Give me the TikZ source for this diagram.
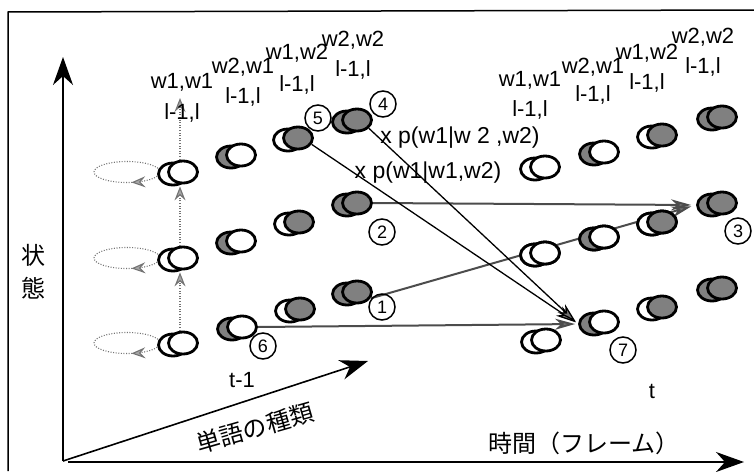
\documentclass[tikz,border=0pt]{standalone}
\usepackage{fontspec}
\setmainfont{Liberation Sans}
\newfontfamily\jp{Noto Sans CJK JP}
\usetikzlibrary{arrows.meta,decorations.markings,shapes.geometric}
\newcommand\statepair[5]{%
  \node[#4] (#1b) at (#2-10,#3+2) {};
  \node[#5] (#1) at (#2,#3) {};}
\begin{document}
\begin{tikzpicture}[x=1pt,y=-1pt,
  ell/.style={ellipse,draw,line width=2.8pt,minimum width=29pt,minimum height=22pt,inner sep=0pt},
  wf/.style={ell,fill=white},
  gf/.style={ell,fill=black!50},
  lbl/.style={font=\fontsize{22}{22}\selectfont,inner sep=0pt},
  plbl/.style={font=\fontsize{23}{23}\selectfont,inner sep=0pt},
  num/.style={circle,draw,line width=1.5pt,minimum size=26pt,inner sep=0pt,font=\fontsize{18}{18}\selectfont},
  jtxt/.style={font=\jp\fontsize{24}{33}\selectfont,inner sep=0pt},
  axis/.style={line width=1.6pt,-{Stealth[length=28pt,width=20pt,inset=9pt]}},
  gtip/.style={-{Stealth[length=14pt,width=11pt,inset=5pt,fill=black!35,color=black!55]}},
  dotline/.style={draw=black!55,line width=1.1pt,dash pattern=on 1pt off 1.6pt},
  dotarrow/.style={dotline,gtip},
  loopst/.style={dotline,postaction=decorate,decoration={markings,mark=at position 0.22 with {\arrow[black!55]{Stealth[length=14pt,width=11pt,inset=5pt,fill=black!35]}}}},
  hconn/.style={draw=black!70,line width=2pt,-{Stealth[length=20pt,width=11pt,inset=6pt,fill=black!55]}},
  dconn/.style={draw=black,line width=1.3pt,-{Stealth[length=20pt,width=11pt,inset=6pt,fill=black!55]}}]
\useasboundingbox (0,0) rectangle (754,471);
% frame
\draw[line width=1.5pt] (8,471) -- (8,12) -- (754,10);
% axes
\coordinate (O) at (63,461);
\coordinate (Ytop) at (63,57);
\coordinate (Xend) at (744,462);
\coordinate (Dend) at (368,361);
\draw[axis] (O) -- (Ytop);
\draw[axis] (68,462) -- (Xend);
\draw[axis] (O) -- (Dend);
% self loops (drawn first, nodes cover their right end)
\foreach \yy in {172,258,343} {
  \draw[loopst] (127,\yy) ellipse [x radius=33, y radius=10.5];
}
% state nodes, left group (t-1)
\statepair{L11}{183}{172}{wf}{wf}
\statepair{L12}{183}{258}{wf}{wf}
\statepair{L13}{183}{343}{wf}{wf}
\statepair{L21}{241}{155}{gf}{wf}
\statepair{L22}{241}{241}{gf}{wf}
\statepair{L23}{242}{327}{gf}{wf}
\statepair{L31}{298}{138}{wf}{gf}
\statepair{L32}{299}{222}{wf}{gf}
\statepair{L33}{300}{309}{wf}{gf}
\statepair{L41}{357}{120}{gf}{gf}
\statepair{L42}{357}{203}{gf}{gf}
\statepair{L43}{357}{292}{gf}{gf}
% state nodes, right group (t)
\statepair{R11}{545}{167}{wf}{wf}
\statepair{R12}{545}{253}{wf}{wf}
\statepair{R13}{546}{340}{wf}{wf}
\statepair{R21}{604}{152}{gf}{wf}
\statepair{R22}{604}{237}{gf}{wf}
\statepair{R23}{604}{322}{gf}{wf}
\statepair{R31}{662}{135}{wf}{gf}
\statepair{R32}{662}{222}{wf}{gf}
\statepair{R33}{662}{307}{wf}{gf}
\statepair{R41}{722}{117}{gf}{gf}
\statepair{R42}{722}{203}{gf}{gf}
\statepair{R43}{722}{288}{gf}{gf}
% vertical dotted arrows
\coordinate (Ltop) at (180,98);
\draw[dotarrow,shorten >=2pt] ([xshift=-3pt]L13.north) -- ([xshift=-3pt]L12.south);
\draw[dotarrow,shorten >=2pt] ([xshift=-3pt]L12.north) -- ([xshift=-3pt]L11.south);
\draw[dotarrow] ([xshift=-3pt]L11.north) -- (Ltop);
% transitions
\draw[hconn,shorten >=3pt] (L23.east) -- (R23b.west);
\draw[hconn,shorten >=5pt] (L43.-25) -- (R42b.west);
\draw[hconn,shorten >=5pt] (L42.east) -- (R42b.west);
\draw[dconn,shorten >=3pt] (L31.-25) -- (R23b.west);
\draw[dconn,shorten >=3pt] (L41.-35) -- (R23b.west);
% redraw target nodes on top of lines
\statepair{R12}{545}{253}{wf}{wf}
\statepair{R22}{604}{237}{gf}{wf}
\statepair{R32}{662}{222}{wf}{gf}
% numbers
\node[num] (n1) at (382,307) {1};
\node[num] (n2) at (382,232) {2};
\node[num] (n3) at (738,231) {3};
\node[num] (n4) at (383,104) {4};
\node[num] (n5) at (318,118) {5};
\node[num] (n6) at (263,346) {6};
\node[num] (n7) at (623,350) {7};
% probability labels
\node[plbl] (p1) at (460,138) {x p(w1|w 2 ,w2)};
\node[plbl] (p2) at (428,173) {x p(w1|w1,w2)};
% column labels, left
\node[lbl] (la1) at (182,82) {w1,w1};
\node[lbl] (lb1) at (182,113) {l-1,l};
\node[lbl] (la2) at (243,67) {w2,w1};
\node[lbl] (lb2) at (243,97) {l-1,l};
\node[lbl] (la3) at (297,53) {w1,w2};
\node[lbl] (lb3) at (297,85) {l-1,l};
\node[lbl] (la4) at (353,40) {w2,w2};
\node[lbl] (lb4) at (353,70) {l-1,l};
% column labels, right
\node[lbl] (ra1) at (530,80) {w1,w1};
\node[lbl] (rb1) at (530,110) {l-1,l};
\node[lbl] (ra2) at (593,67) {w2,w1};
\node[lbl] (rb2) at (593,95) {l-1,l};
\node[lbl] (ra3) at (647,53) {w1,w2};
\node[lbl] (rb3) at (647,83) {l-1,l};
\node[lbl] (ra4) at (703,37) {w2,w2};
\node[lbl] (rb4) at (703,67) {l-1,l};
% time labels
\node[lbl] (tm1) at (242,380) {t-1};
\node[lbl] (tt) at (652,391) {t};
% axis labels
\node[jtxt,align=center] (ylab) at (33,272) {状\\態};
\node[jtxt,rotate=16] (dlab) at (255,428) {単語の種類};
\node[jtxt] (xlab) at (584,443) {時間（フレーム）};
\end{tikzpicture}
\end{document}
